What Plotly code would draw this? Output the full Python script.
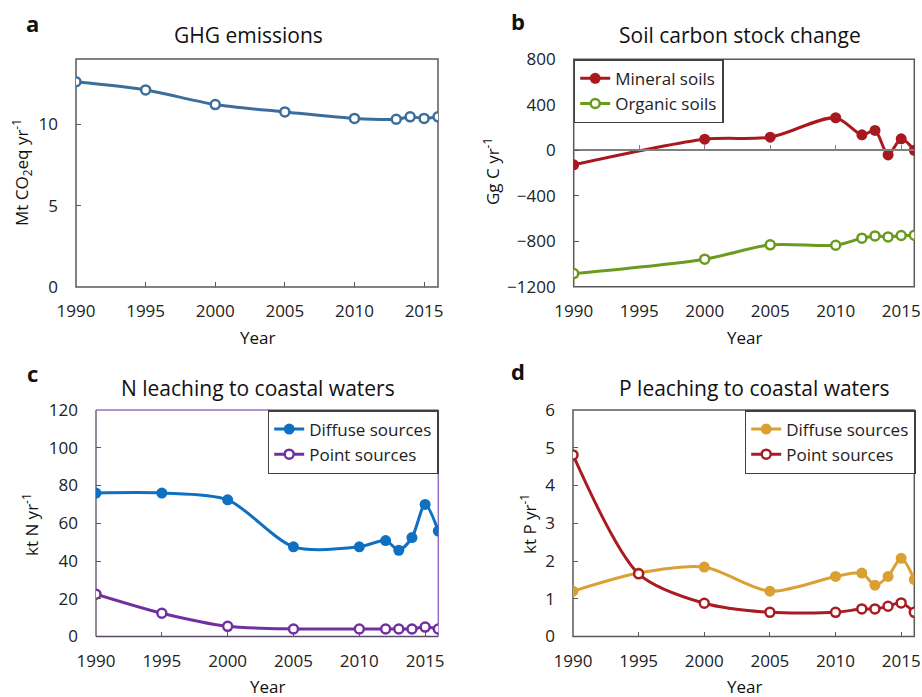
import plotly.graph_objects as go

# ---------------- data ----------------
years_a = [1990, 1995, 2000, 2005, 2010, 2013, 2014, 2015, 2016]
ghg = [12.6, 12.1, 11.2, 10.75, 10.35, 10.3, 10.45, 10.35, 10.45]

years_b = [1990, 2000, 2005, 2010, 2012, 2013, 2014, 2015, 2016]
mineral = [-128, 97, 115, 286, 136, 174, -41, 101, 0]
organic = [-1085, -958, -832, -835, -773, -753, -762, -750, -747]

years_c = [1990, 1995, 2000, 2005, 2010, 2012, 2013, 2014, 2015, 2016]
n_diffuse = [76.0, 76.0, 72.4, 47.5, 47.5, 50.8, 45.7, 52.4, 70.0, 55.9]
n_point = [22.4, 12.3, 5.4, 4.0, 4.0, 4.0, 4.0, 4.0, 5.0, 4.0]

years_d = [1990, 1995, 2000, 2005, 2010, 2012, 2013, 2014, 2015, 2016]
p_diffuse = [1.20, 1.68, 1.84, 1.20, 1.59, 1.68, 1.36, 1.59, 2.07, 1.51]
p_point = [4.81, 1.66, 0.88, 0.64, 0.64, 0.73, 0.73, 0.80, 0.89, 0.64]

xticks = [1990, 1995, 2000, 2005, 2010, 2015]

# ---------------- style ----------------
FONT = "Open Sans"
W, H = 922, 697
AX = "#595959"
C_A = "#3C6E9B"
C_MIN = "#A8191F"
C_ORG = "#6B9A1E"
C_ND = "#0F6FC0"
C_NP = "#7030A0"
C_PD = "#DAA032"
C_PP = "#A81C22"


def px(x):
    return x / W


def py(y):
    return 1 - y / H


fig = go.Figure()


def filled(x, y, color, name, xa, ya, legend=None, show=False):
    fig.add_trace(go.Scatter(
        x=x, y=y, mode="lines+markers", name=name,
        line=dict(color=color, width=3, shape="spline", smoothing=0.8),
        marker=dict(symbol="circle", size=11, color=color),
        xaxis=xa, yaxis=ya, showlegend=show, legend=legend))


def hollow(x, y, color, name, xa, ya, legend=None, show=False):
    fig.add_trace(go.Scatter(
        x=x, y=y, mode="lines+markers", name=name,
        line=dict(color=color, width=3, shape="spline", smoothing=0.8),
        marker=dict(symbol="circle", size=9, color="white",
                    line=dict(color=color, width=2.5)),
        xaxis=xa, yaxis=ya, showlegend=show, legend=legend))


hollow(years_a, ghg, C_A, "GHG", "x", "y")
filled(years_b, mineral, C_MIN, "Mineral soils", "x2", "y2", "legend", True)
hollow(years_b, organic, C_ORG, "Organic soils", "x2", "y2", "legend", True)
filled(years_c, n_diffuse, C_ND, "Diffuse sources", "x3", "y3", "legend2", True)
hollow(years_c, n_point, C_NP, "Point sources", "x3", "y3", "legend2", True)
filled(years_d, p_diffuse, C_PD, "Diffuse sources", "x4", "y4", "legend3", True)
hollow(years_d, p_point, C_PP, "Point sources", "x4", "y4", "legend3", True)

tickfont = dict(family=FONT, size=17, color="#222222")

dom = {
    1: ([px(76), px(438)], [py(287), py(59)]),
    2: ([px(573.7), px(914.3)], [py(286.7), py(59.3)]),
    3: ([px(96), px(438.3)], [py(636.5), py(410)]),
    4: ([px(573), px(914.3)], [py(636.5), py(410)]),
}


def xaxis(i, ticks="inside"):
    return dict(domain=dom[i][0], anchor="y" if i == 1 else f"y{i}",
                range=[1990, 2016], tickvals=xticks, ticks=ticks,
                ticklen=5, tickcolor=AX, showgrid=False, zeroline=False,
                showline=False, automargin=False,
                tickfont=tickfont, ticklabelstandoff=12)


def yaxis(i, rng, tv):
    return dict(domain=dom[i][1], anchor="x" if i == 1 else f"x{i}",
                range=rng, tickvals=tv, ticks="inside", ticklen=5,
                tickcolor=AX, showgrid=False, zeroline=False,
                showline=False, automargin=False,
                tickfont=tickfont, ticklabelstandoff=17)


layout = dict(
    width=W, height=H, margin=dict(l=0, r=0, t=0, b=0, autoexpand=False),
    template="none",
    paper_bgcolor="white", plot_bgcolor="white",
    font=dict(family=FONT, size=17, color="#222222"),
    xaxis=xaxis(1), yaxis=yaxis(1, [0, 14], [0, 5, 10]),
    xaxis2=xaxis(2, ticks=""), yaxis2=yaxis(2, [-1200, 800], [-1200, -800, -400, 0, 400, 800]),
    xaxis3=xaxis(3), yaxis3=yaxis(3, [0, 120], [0, 20, 40, 60, 80, 100, 120]),
    xaxis4=xaxis(4), yaxis4=yaxis(4, [0, 6], [0, 1, 2, 3, 4, 5, 6]),
)

# zero line with ticks for panel b
d2y = dom[2][1]
zero_pos = d2y[0] + (0 - (-1200)) / 2000 * (d2y[1] - d2y[0])
layout["xaxis5"] = dict(domain=dom[2][0], overlaying="x2", anchor="free",
                        position=zero_pos, range=[1990, 2016], tickvals=xticks,
                        ticks="inside", ticklen=5, tickcolor="#808080",
                        showticklabels=False, showgrid=False, zeroline=False,
                        showline=True, linecolor="#808080", linewidth=1.5,
                        automargin=False)
fig.add_trace(go.Scatter(x=[1990], y=[0], mode="markers", marker=dict(opacity=0),
                         xaxis="x5", yaxis="y2", showlegend=False, hoverinfo="skip"))

legfont = dict(family=FONT, size=17, color="#222222")
leg_common = dict(font=legfont, bgcolor="white", bordercolor="#404040",
                  borderwidth=1.5, tracegroupgap=0, itemwidth=30,
                  xanchor="left", yanchor="top")
layout["legend"] = dict(x=px(573.7), y=py(59.3), **leg_common)
layout["legend2"] = dict(x=px(267.7), y=py(410), **leg_common)
layout["legend3"] = dict(x=px(744.7), y=py(410), **leg_common)

fig.update_layout(**layout)

# frames
for xa, ya in [("x", "y"), ("x2", "y2"), ("x4", "y4")]:
    fig.add_shape(type="rect", xref=f"{xa} domain", yref=f"{ya} domain",
                  x0=0, x1=1, y0=0, y1=1, line=dict(color=AX, width=1.5),
                  layer="below")
# panel c: dark left/bottom, purple top/right
fig.add_shape(type="line", xref="x3 domain", yref="y3 domain", x0=0, x1=1, y0=1, y1=1,
              line=dict(color="#9A6FC0", width=1.5), layer="below")
fig.add_shape(type="line", xref="x3 domain", yref="y3 domain", x0=1, x1=1, y0=0, y1=1,
              line=dict(color="#9A6FC0", width=1.5), layer="below")
fig.add_shape(type="line", xref="x3 domain", yref="y3 domain", x0=0, x1=0, y0=0, y1=1,
              line=dict(color="#6E6478", width=1.5), layer="below")
fig.add_shape(type="line", xref="x3 domain", yref="y3 domain", x0=0, x1=1, y0=0, y1=0,
              line=dict(color="#5A4A6A", width=1.5), layer="below")

ann = []


def text(x, y, s, size=17, bold=False, angle=0):
    ann.append(dict(x=px(x), y=py(y), xref="paper", yref="paper", text=(f"<b>{s}</b>" if bold else s),
                    showarrow=False, textangle=angle, xanchor="center", yanchor="middle",
                    font=dict(family=FONT, size=size, color="#111111")))


# panel letters
text(32, 23, "a", 22, True)
text(518, 21, "b", 22, True)
text(32, 373, "c", 22, True)
text(518, 371, "d", 22, True)
# titles
text(249, 35, "GHG emissions", 21)
text(740, 35, "Soil carbon stock change", 21)
text(258, 388, "N leaching to coastal waters", 21)
text(754, 388, "P leaching to coastal waters", 21)
# y titles
text(22, 173, "Mt CO<sub>2</sub>eq yr<sup>-1</sup>", 17, angle=-90)
text(491, 172, "Gg C yr<sup>-1</sup>", 17, angle=-90)
text(30, 524, "kt N yr<sup>-1</sup>", 17, angle=-90)
text(528, 524, "kt P yr<sup>-1</sup>", 17, angle=-90)
# x titles
text(257, 337, "Year", 17)
text(744, 337, "Year", 17)
text(267, 686, "Year", 17)
text(744, 686, "Year", 17)

fig.update_layout(annotations=ann)

fig.write_html("out.html", config={"displayModeBar": False},
               post_script="document.body.style.margin='0';document.body.style.overflow='hidden';")
